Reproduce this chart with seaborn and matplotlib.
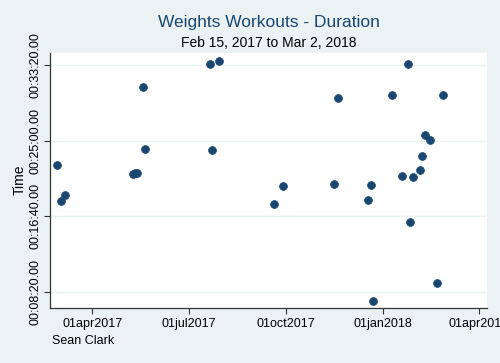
import matplotlib
matplotlib.use("Agg")
import matplotlib.pyplot as plt
import matplotlib.dates as mdates
from matplotlib.ticker import FuncFormatter, FixedLocator
import seaborn as sns
import pandas as pd

# Data
dates = [
    "2017-02-27", "2017-03-02", "2017-03-06", "2017-05-09", "2017-05-11",
    "2017-05-13", "2017-05-19", "2017-05-21", "2017-07-21", "2017-07-23",
    "2017-07-30", "2017-09-20", "2017-09-28", "2017-11-15", "2017-11-19",
    "2017-12-18", "2017-12-20", "2017-12-22", "2018-01-09", "2018-01-19",
    "2018-01-24", "2018-01-26", "2018-01-29", "2018-02-05", "2018-02-07",
    "2018-02-09", "2018-02-14", "2018-02-21", "2018-02-26",
]
seconds = [
    1336, 1098, 1137, 1279, 1283,
    1287, 1854, 1444, 2007, 1440,
    2026, 1078, 1199, 1212, 1779,
    1104, 1208, 440, 1801, 1265,
    2007, 963, 1256, 1305, 1396,
    1537, 1501, 557, 1801,
]
y_ticks = [500, 1000, 1500, 2000]
x_ticks = ["2017-04-01", "2017-07-01", "2017-10-01", "2018-01-01", "2018-04-01"]

title = "Weights Workouts - Duration"
subtitle = "Feb 15, 2017 to Mar 2, 2018"
y_label = "Time"
note = "Sean Clark"

df = pd.DataFrame({"date": pd.to_datetime(dates), "Time": seconds})

sns.set_theme(style="white")
plt.rcParams["font.family"] = ["Liberation Sans", "DejaVu Sans"]

bg = "#EAF2F3"
navy = "#1A476F"

fig = plt.figure(figsize=(5.0, 3.63), dpi=100, facecolor=bg)
ax = fig.add_axes([0.1, 0.1515, 0.874, 0.7025])
ax.set_facecolor("white")

sns.scatterplot(data=df, x="date", y="Time", ax=ax, color=navy, s=32,
                edgecolor=navy, linewidth=0.5, zorder=3)

ax.set_xlim(pd.Timestamp("2017-02-20"), pd.Timestamp("2018-04-09"))
ax.set_ylim(392, 2079)

ax.yaxis.set_major_locator(FixedLocator(y_ticks))
def fmt_time(v, pos):
    v = int(round(v))
    h, r = divmod(v, 3600)
    m, s = divmod(r, 60)
    return f"{h:02d}:{m:02d}:{s:02d}.00"
ax.yaxis.set_major_formatter(FuncFormatter(fmt_time))

ax.xaxis.set_major_locator(FixedLocator([mdates.date2num(pd.Timestamp(d)) for d in x_ticks]))
ax.xaxis.set_major_formatter(FuncFormatter(lambda v, p: mdates.num2date(v).strftime("%d%b%Y").lower()))

for t in ax.get_yticklabels():
    t.set_rotation(90)
    t.set_va("center")
ax.tick_params(axis="y", labelsize=9, length=4, width=0.8, color="#333333", pad=2, labelcolor="black")
ax.tick_params(axis="x", labelsize=9, length=4, width=0.8, color="#333333", pad=3, labelcolor="black")
ax.tick_params(left=True, bottom=True)

ax.grid(axis="y", color=bg, linewidth=1.0, zorder=0)
ax.grid(axis="x", visible=False)

for side in ["top", "right"]:
    ax.spines[side].set_visible(False)
for side in ["left", "bottom"]:
    ax.spines[side].set_color("#333333")
    ax.spines[side].set_linewidth(0.9)

ax.set_xlabel("")
ax.set_ylabel("")

fig.text(0.537, 1 - 23 / 363, title, ha="center", va="center", fontsize=12.5, color=navy)
fig.text(0.537, 1 - 43 / 363, subtitle, ha="center", va="center", fontsize=10, color="black")
fig.text(20 / 500, 0.505, y_label, rotation=90, ha="center", va="center", fontsize=10, color="black")
fig.text(52 / 500, 1 - 341 / 363, note, ha="left", va="center", fontsize=9, color="black")

fig.savefig("out.png", dpi=100, facecolor=bg)
